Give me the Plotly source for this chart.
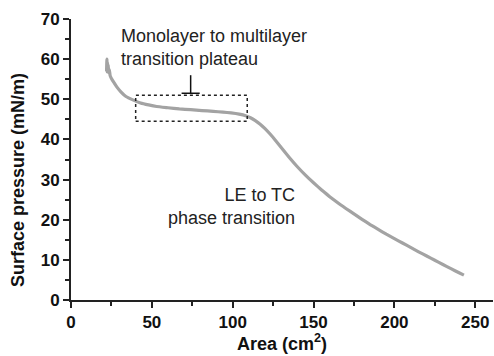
import plotly.graph_objects as go

area = [22.0, 22.2, 22.4, 22.6, 22.8, 23.0, 23.3, 23.7, 24.2, 25.0, 26.5, 28.3,
        31.0, 34.0, 38.6, 43.0, 48.0, 53.0, 60.0, 67.0, 74.0, 81.0, 88.0, 94.0,
        99.0, 104.0, 108.0, 111.0, 114.0, 117.0, 120.0, 123.0, 126.0, 130.0,
        135.0, 140.0, 145.0, 150.0, 155.0, 160.0, 165.0, 170.0, 175.0, 180.0,
        185.0, 190.0, 195.0, 200.0, 205.0, 210.0, 215.0, 220.0, 225.0, 230.0,
        235.0, 240.0, 243.0]
pressure = [57.0, 60.0, 56.8, 59.2, 57.2, 58.6, 56.6, 57.4, 55.9, 55.2, 54.2, 53.1,
            51.8, 50.7, 49.8, 49.1, 48.6, 48.2, 47.9, 47.6, 47.4, 47.2, 47.0, 46.8,
            46.6, 46.3, 45.9, 45.4, 44.7, 43.8, 42.7, 41.4, 40.0, 38.0,
            35.5, 33.2, 31.1, 29.2, 27.4, 25.75, 24.2, 22.8, 21.45, 20.1,
            18.8, 17.6, 16.4, 15.3, 14.2, 13.1, 12.0, 10.95, 9.9, 8.85,
            7.8, 6.8, 6.2]

x_ticks = [0, 50, 100, 150, 200, 250]
y_ticks = [0, 10, 20, 30, 40, 50, 60, 70]

plateau_area = [40, 109]
plateau_pressure = [44.5, 51.0]
marker_area = 74
marker_pressure = [51.5, 56.0]

FONT = "Liberation Sans, Arial, sans-serif"

fig = go.Figure()
fig.add_trace(go.Scatter(x=area, y=pressure, mode="lines",
                         line=dict(color="#a3a3a3", width=3.2, shape="spline", smoothing=0.3),
                         showlegend=False, hoverinfo="skip"))

# dotted plateau box
fig.add_shape(type="rect", x0=plateau_area[0], x1=plateau_area[1],
              y0=plateau_pressure[0], y1=plateau_pressure[1],
              line=dict(color="#222", width=1.5, dash="dot"))
# inverted-T marker
fig.add_shape(type="line", x0=marker_area, x1=marker_area,
              y0=marker_pressure[0], y1=marker_pressure[1],
              line=dict(color="#111", width=1.5))
fig.add_shape(type="line", x0=marker_area - 5.6, x1=marker_area + 5.6,
              y0=marker_pressure[0], y1=marker_pressure[0],
              line=dict(color="#111", width=1.5))

fig.add_annotation(x=29.7, y=62.8, xref="x", yref="y", xanchor="left", yanchor="middle",
                   text="Monolayer to multilayer<br>transition plateau", showarrow=False,
                   align="left", font=dict(family=FONT, size=18, color="#222"))
fig.add_annotation(x=140, y=23.4, xref="x", yref="y", xanchor="right", yanchor="middle",
                   text="LE to TC<br>phase transition", showarrow=False,
                   align="right", font=dict(family=FONT, size=18, color="#222"))

fig.add_annotation(x=-0.1256, y=0.427, xref="paper", yref="paper", textangle=-90,
                   text="<b>Surface pressure (mN/m)</b>", showarrow=False,
                   xanchor="center", yanchor="middle",
                   font=dict(family=FONT, size=18, color="#111"))
fig.add_annotation(x=0.5, y=-0.152, xref="paper", yref="paper",
                   text="<b>Area (cm<sup>2</sup>)</b>", showarrow=False,
                   xanchor="center", yanchor="middle",
                   font=dict(family=FONT, size=18, color="#111"))

axis_common = dict(showgrid=False, zeroline=False, showline=True, linecolor="#222",
                   linewidth=2, ticks="outside", ticklen=6, tickwidth=2, tickcolor="#222",
                   tickfont=dict(family=FONT, size=17, color="#111", weight=700))

fig.update_xaxes(range=[0, 261], tickvals=x_ticks,
                 ticktext=["<b>%d</b>" % v for v in x_ticks],
                 minor=dict(dtick=25, tick0=0, ticks="outside", ticklen=4, tickwidth=1.5,
                            tickcolor="#222"),
                 **axis_common)
fig.update_yaxes(range=[0, 70], tickvals=y_ticks,
                 ticktext=["<b>%d</b>" % v for v in y_ticks],
                 minor=dict(dtick=5, tick0=0, ticks="outside", ticklen=4, tickwidth=1.5,
                            tickcolor="#222"),
                 **axis_common)

fig.update_layout(width=494, height=356, margin=dict(l=71, r=1, t=19, b=56),
                  paper_bgcolor="white", plot_bgcolor="white")

fig.write_html("out.html")
